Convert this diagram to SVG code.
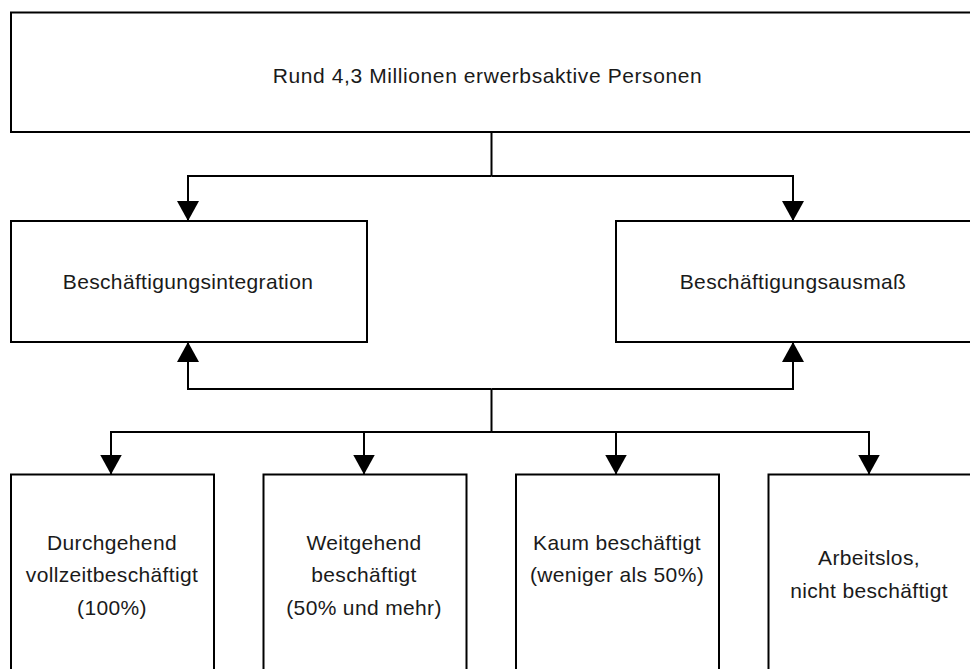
<svg xmlns="http://www.w3.org/2000/svg" width="970" height="669" viewBox="0 0 970 669">
  <defs>
    <marker id="arrow" viewBox="0 0 20 22" refX="20" refY="11" markerWidth="20" markerHeight="22" markerUnits="userSpaceOnUse" orient="auto">
      <path d="M0,0 L20,11 L0,22 Z" fill="#000"/>
    </marker>
  </defs>
  <style>
    .box { fill: #fff; stroke: #000; stroke-width: 2; }
    .lbl { font-family: "Liberation Sans", Arial, sans-serif; font-size: 21px; fill: #1a1a1a; text-anchor: middle; letter-spacing: 0.35px; }
    .top { font-size: 21px; letter-spacing: 0.6px; }
    .wire { fill: none; stroke: #000; stroke-width: 2; }
  </style>
  <rect width="970" height="669" fill="#fff"/>

  <g id="node-total">
    <rect class="box" x="11" y="12.5" width="975" height="119.5"/>
    <text class="lbl top" x="487.5" y="83">Rund 4,3 Millionen erwerbsaktive Personen</text>
  </g>

  <g id="node-integration">
    <rect class="box" x="11" y="221" width="356" height="121"/>
    <text class="lbl" x="188" y="289">Beschäftigungsintegration</text>
  </g>

  <g id="node-ausmass">
    <rect class="box" x="616" y="221" width="370" height="121"/>
    <text class="lbl" x="793" y="289">Beschäftigungsausmaß</text>
  </g>

  <g id="node-vollzeit">
    <rect class="box" x="11" y="474.5" width="203" height="210"/>
    <text class="lbl" x="112" y="550">Durchgehend</text>
    <text class="lbl" x="112" y="582">vollzeitbeschäftigt</text>
    <text class="lbl" x="112" y="615">(100%)</text>
  </g>

  <g id="node-weitgehend">
    <rect class="box" x="263.5" y="474.5" width="203" height="210"/>
    <text class="lbl" x="364" y="550">Weitgehend</text>
    <text class="lbl" x="364" y="582">beschäftigt</text>
    <text class="lbl" x="364" y="615">(50% und mehr)</text>
  </g>

  <g id="node-kaum">
    <rect class="box" x="516" y="474.5" width="203" height="210"/>
    <text class="lbl" x="617" y="550">Kaum beschäftigt</text>
    <text class="lbl" x="617" y="582">(weniger als 50%)</text>
  </g>

  <g id="node-arbeitslos">
    <rect class="box" x="768.5" y="474.5" width="220" height="210"/>
    <text class="lbl" x="869" y="565">Arbeitslos,</text>
    <text class="lbl" x="869" y="598">nicht beschäftigt</text>
  </g>

  <g id="connectors">
    <!-- total to the two dimensions -->
    <path class="wire" d="M491.5,132 V176"/>
    <path class="wire" d="M491.5,176 H188 V221" marker-end="url(#arrow)"/>
    <path class="wire" d="M491.5,176 H793 V221" marker-end="url(#arrow)"/>
    <!-- categories feeding both dimensions -->
    <path class="wire" d="M491.5,389 H188 V342" marker-end="url(#arrow)"/>
    <path class="wire" d="M491.5,389 H793 V342" marker-end="url(#arrow)"/>
    <path class="wire" d="M491.5,389 V432"/>
    <!-- branch to the four categories -->
    <path class="wire" d="M491.5,432 H111 V474.5" marker-end="url(#arrow)"/>
    <path class="wire" d="M491.5,432 H364 V474.5" marker-end="url(#arrow)"/>
    <path class="wire" d="M491.5,432 H616 V474.5" marker-end="url(#arrow)"/>
    <path class="wire" d="M491.5,432 H869 V474.5" marker-end="url(#arrow)"/>
  </g>
</svg>
